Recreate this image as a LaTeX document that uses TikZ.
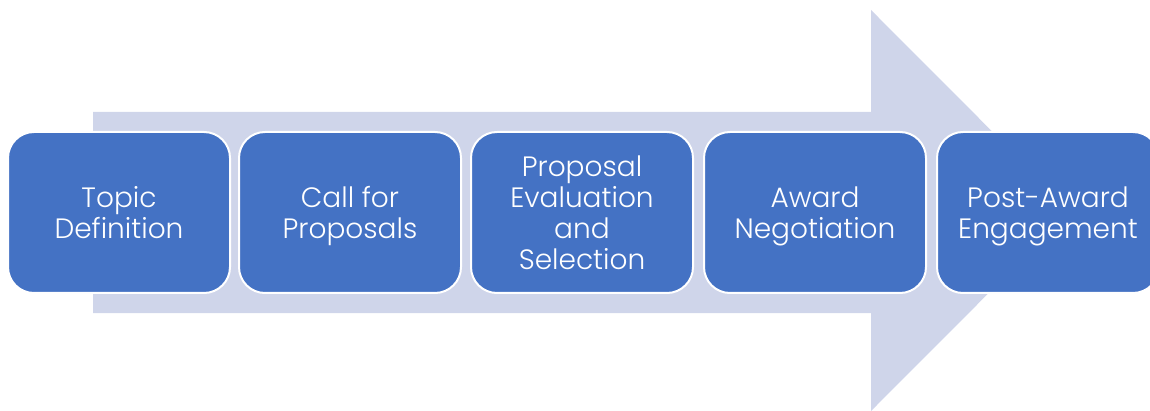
\documentclass[tikz,border=0pt]{standalone}
\usepackage{fontspec}
\setmainfont{Poppins}[UprightFont=* Light]
\definecolor{stepblue}{HTML}{4472C4}
\definecolor{arrowfill}{HTML}{CFD5EA}
\begin{document}
\begin{tikzpicture}[x=1pt,y=-1pt,
  stage/.style={draw=white, line width=2pt, fill=stepblue, rounded corners=26pt,
    minimum width=222pt, minimum height=161pt, text=white, align=center,
    font=\fontsize{28}{31}\selectfont, inner sep=0pt},
  label/.style={text=white, align=center, font=\fontsize{28}{31}\selectfont, inner sep=0pt}]
  \useasboundingbox (0,0) rectangle (1150,411);
  % background flow arrow
  \fill[arrowfill] (93,112) -- (871,112) -- (871,10) -- (1071,210.5)
    -- (871,411) -- (871,313) -- (93,313) -- cycle;
  % process stages
  \foreach \n/\x in {s1/119, s2/350, s3/582, s4/815, s5/1048}
    \node[stage] (\n) at (\x,212.5) {};
  % stage captions, struts keep the lines evenly centred
  \node[label] (t1) at ([yshift=-4pt]s1.center) {\strut Topic\\Definition\strut};
  \node[label] (t2) at ([yshift=-4pt]s2.center) {\strut Call for\\Proposals\strut};
  \node[label] (t3) at ([yshift=-4pt]s3.center) {\strut Proposal\\Evaluation\\and\\Selection\strut};
  \node[label] (t4) at ([yshift=-4pt]s4.center) {\strut Award\\Negotiation\strut};
  \node[label] (t5) at ([yshift=-4pt]s5.center) {\strut Post-Award\\Engagement\strut};
\end{tikzpicture}
\end{document}
